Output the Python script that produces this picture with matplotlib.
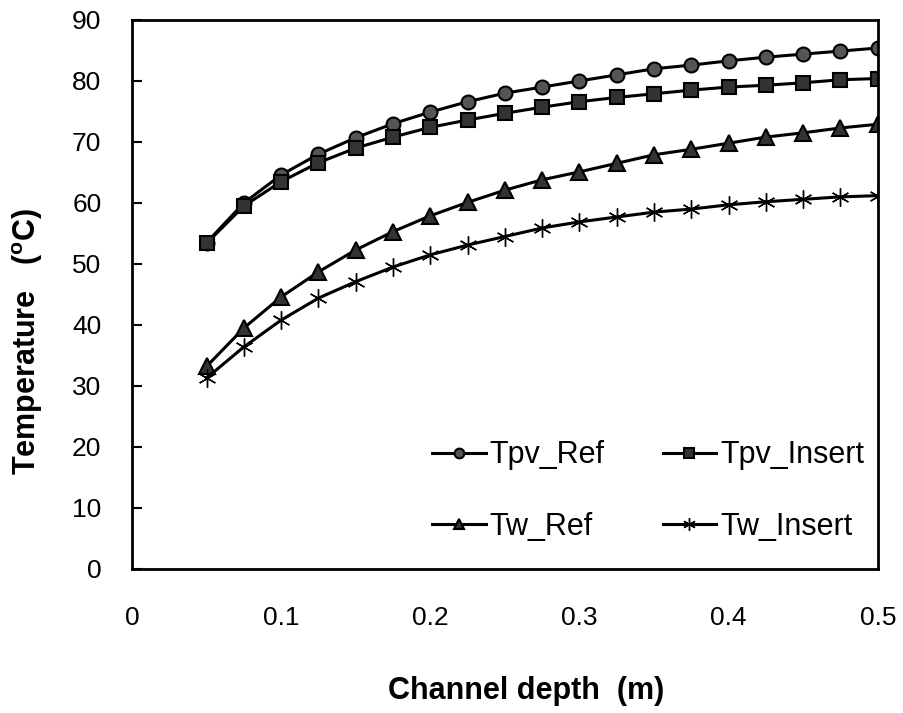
import numpy as np
import matplotlib
matplotlib.use("Agg")
from matplotlib import pyplot as plt

plt.rcParams['font.family'] = ['Liberation Sans', 'DejaVu Sans']
plt.rcParams['mathtext.fontset'] = 'custom'
plt.rcParams['mathtext.rm'] = 'Liberation Sans'
plt.rcParams['mathtext.bf'] = 'Liberation Sans:bold'

# channel depth (m)
depth = [0.05, 0.075, 0.1, 0.125, 0.15, 0.175, 0.2, 0.225, 0.25, 0.275,
         0.3, 0.325, 0.35, 0.375, 0.4, 0.425, 0.45, 0.475, 0.5]

tpv_ref = [53.5, 60.0, 64.6, 68.0, 70.7, 73.0, 74.9, 76.6, 78.0, 79.0,
           80.0, 81.0, 82.0, 82.6, 83.3, 83.9, 84.4, 84.9, 85.4]
tpv_insert = [53.4, 59.5, 63.5, 66.6, 69.0, 70.8, 72.4, 73.6, 74.7, 75.7,
              76.6, 77.3, 77.9, 78.5, 79.0, 79.3, 79.7, 80.2, 80.4]
tw_ref = [33.2, 39.5, 44.6, 48.7, 52.3, 55.3, 57.9, 60.1, 62.1, 63.8,
          65.1, 66.5, 67.9, 68.8, 69.8, 70.8, 71.5, 72.3, 72.9]
tw_insert = [31.3, 36.4, 40.8, 44.4, 47.1, 49.5, 51.5, 53.1, 54.5, 55.9,
             56.9, 57.7, 58.5, 59.0, 59.7, 60.2, 60.6, 61.0, 61.2]

fig = plt.figure(figsize=(9.04, 7.13), dpi=100)
ax = fig.add_axes([0.146, 0.202, 0.825, 0.770])

l1, = ax.plot(depth, tpv_ref, '-o', color='black', lw=2.2, ms=10, mfc='#555555',
              mec='black', mew=1.5, label='Tpv_Ref')
l2, = ax.plot(depth, tpv_insert, '-s', color='black', lw=2.2, ms=10, mfc='#333333',
              mec='black', mew=1.5, label='Tpv_Insert')
l3, = ax.plot(depth, tw_ref, '-^', color='black', lw=2.2, ms=11, mfc='#333333',
              mec='black', mew=1.5, label='Tw_Ref')
l4, = ax.plot(depth, tw_insert, '-', marker=(6, 2, 0), color='black', lw=2.2, ms=13,
              mec='black', mew=1.0, label='Tw_Insert')

ax.set_xlim(0, 0.5)
ax.set_ylim(0, 90)
ax.set_xticks([0, 0.1, 0.2, 0.3, 0.4, 0.5])
ax.set_xticklabels(['0', '0.1', '0.2', '0.3', '0.4', '0.5'])
ax.set_yticks(range(0, 91, 10))
ax.tick_params(axis='y', direction='in', labelsize=19, length=7, width=1.5, pad=22)
ax.tick_params(axis='x', direction='in', labelsize=19, length=0, pad=27)
for s in ax.spines.values():
    s.set_linewidth(2)

ax.set_xlabel('Channel depth  (m)', fontsize=22, fontweight='bold')
ax.xaxis.set_label_coords(0.528, -0.195)
ax.set_ylabel(r'Temperature   ($\mathbf{^o}$C)', fontsize=22, fontweight='bold')
ax.yaxis.set_label_coords(-0.117, 0.415)

# row order: Tpv_Ref, Tpv_Insert / Tw_Ref, Tw_Insert
ax.legend([l1, l3, l2, l4], ['Tpv_Ref', 'Tw_Ref', 'Tpv_Insert', 'Tw_Insert'],
          loc='lower right', ncol=2, frameon=False, fontsize=22,
          handlelength=1.76, columnspacing=1.9, labelspacing=1.35,
          handletextpad=0.13, borderpad=0, borderaxespad=0,
          bbox_to_anchor=(0.982, 0.05), markerscale=0.7)

plt.savefig('out.png', dpi=100)
